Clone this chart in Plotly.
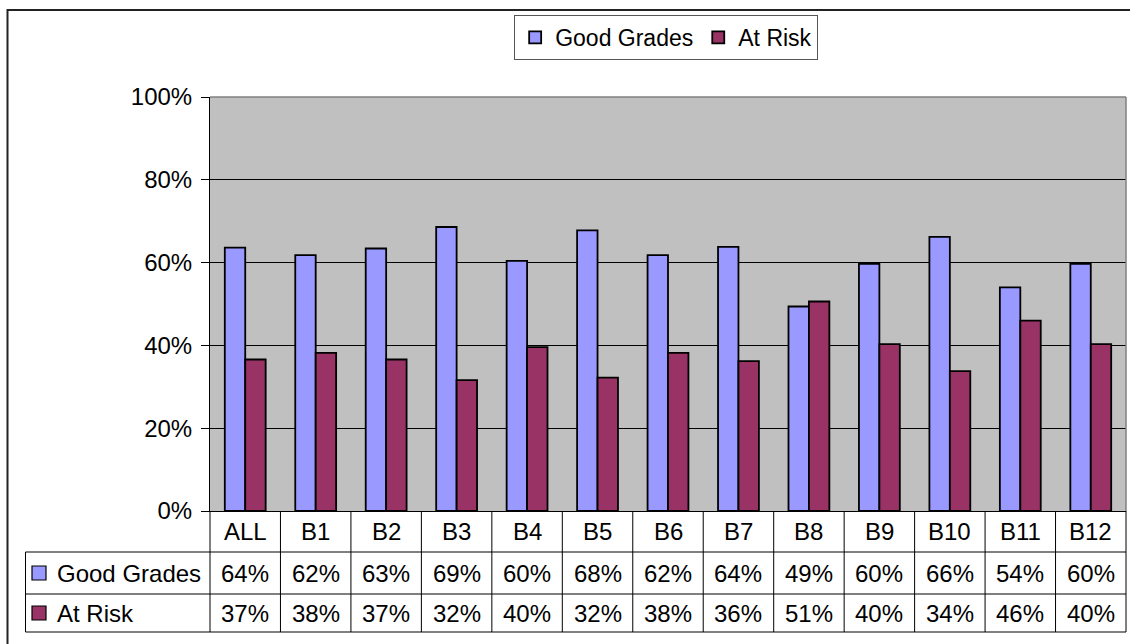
import plotly.graph_objects as go

categories = ["ALL", "B1", "B2", "B3", "B4", "B5", "B6", "B7", "B8", "B9", "B10", "B11", "B12"]
good_grades = [0.636, 0.618, 0.634, 0.686, 0.604, 0.678, 0.618, 0.638, 0.494, 0.597, 0.662, 0.540, 0.597]
at_risk = [0.366, 0.382, 0.366, 0.316, 0.396, 0.322, 0.382, 0.362, 0.506, 0.403, 0.338, 0.460, 0.403]
series_names = ["Good Grades", "At Risk"]
series_colors = ["#9999FF", "#993366"]
y_ticks = [0, 0.2, 0.4, 0.6, 0.8, 1.0]
y_tick_labels = ["0%", "20%", "40%", "60%", "80%", "100%"]

FONT = "Arial, 'Liberation Sans', sans-serif"
FS = 24

# layout geometry (pixels)
WIDTH, HEIGHT = 1130, 644
L, R, T, B = 210, 1126, 97, 511
PW, PH = R - L, B - T


def xp(px):
    return (px - L) / PW


def yp(py):
    return (B - py) / PH


fig = go.Figure()
for name, vals, col in zip(series_names, [good_grades, at_risk], series_colors):
    fig.add_trace(go.Bar(
        x=categories, y=vals, name=name,
        marker=dict(color=col, line=dict(color="black", width=1.8)),
        hoverinfo="x+y",
    ))

shapes = []
line_k = dict(color="black", width=1)
n = len(categories)
row_y = [552, 594, 632]
table_left = 25.5
# vertical column lines
for i in range(n + 1):
    shapes.append(dict(type="line", xref="paper", yref="paper",
                       x0=i / n, x1=i / n, y0=0, y1=yp(row_y[-1]), line=line_k))
# left border of label column
shapes.append(dict(type="line", xref="paper", yref="paper",
                   x0=xp(table_left), x1=xp(table_left), y0=yp(row_y[0]), y1=yp(row_y[-1]), line=line_k))
# horizontal row lines
for ry in row_y:
    shapes.append(dict(type="line", xref="paper", yref="paper",
                       x0=xp(table_left), x1=1, y0=yp(ry), y1=yp(ry), line=line_k))
# plot-area border (gray top/right)
shapes.append(dict(type="line", xref="paper", yref="paper", x0=0, x1=1, y0=1, y1=1,
                   line=dict(color="#808080", width=1.5)))
shapes.append(dict(type="line", xref="paper", yref="paper", x0=1, x1=1, y0=0, y1=1,
                   line=dict(color="#808080", width=1.5)))
# outer chart border
shapes.append(dict(type="rect", xref="paper", yref="paper",
                   x0=xp(7.5), x1=xp(1140), y0=yp(10), y1=yp(660),
                   line=dict(color="#222222", width=2), fillcolor="rgba(0,0,0,0)"))

annotations = []
cat_center = (B + row_y[0]) / 2
row_centers = [(row_y[0] + row_y[1]) / 2, (row_y[1] + row_y[2]) / 2]
for c in categories:
    annotations.append(dict(x=c, y=yp(cat_center), xref="x", yref="paper", text=c,
                            showarrow=False, font=dict(family=FONT, size=FS, color="black"),
                            xanchor="center", yanchor="middle"))
for vals, rc, name, col in zip([good_grades, at_risk], row_centers, series_names, series_colors):
    for c, v in zip(categories, vals):
        annotations.append(dict(x=c, y=yp(rc), xref="x", yref="paper",
                                text=f"{round(v * 100):d}%", showarrow=False,
                                font=dict(family=FONT, size=FS, color="black"),
                                xanchor="center", yanchor="middle"))
    annotations.append(dict(x=xp(55), y=yp(rc), xref="paper", yref="paper", text=name,
                            showarrow=False, font=dict(family=FONT, size=FS, color="black"),
                            xanchor="left", yanchor="middle"))
    shapes.append(dict(type="rect", xref="paper", yref="paper",
                       x0=xp(32), x1=xp(46), y0=yp(rc + 7), y1=yp(rc - 7),
                       fillcolor=col, line=dict(color="black", width=1.2)))

fig.update_layout(
    width=WIDTH, height=HEIGHT,
    margin=dict(l=L, r=WIDTH - R, t=T, b=HEIGHT - B, pad=0),
    paper_bgcolor="white", plot_bgcolor="#C0C0C0",
    barmode="group", bargap=0.42, bargroupgap=0,
    font=dict(family=FONT, size=FS, color="black"),
    showlegend=True,
    legend=dict(orientation="h", x=0.498, xanchor="center", y=yp(15), yanchor="top",
                bgcolor="white", bordercolor="#555555", borderwidth=1,
                font=dict(family=FONT, size=23, color="black"),
                itemclick=False, itemdoubleclick=False, tracegroupgap=0),
    xaxis=dict(type="category", showticklabels=False, ticks="", showgrid=False,
               showline=True, linecolor="black", linewidth=1, range=[-0.5, n - 0.5],
               zeroline=False),
    yaxis=dict(range=[0, 1], tickvals=y_ticks, ticktext=y_tick_labels,
               ticks="outside", ticklen=8, tickcolor="black", tickwidth=1,
               showgrid=True, gridcolor="black", gridwidth=1,
               showline=True, linecolor="black", linewidth=1, zeroline=False,
               ticklabelstandoff=4, tickfont=dict(family=FONT, size=FS, color="black")),
    shapes=shapes, annotations=annotations,
)

fig.write_html("out.html", config={"displayModeBar": False},
               post_script="document.body.style.margin='0';document.body.style.overflow='hidden';")
